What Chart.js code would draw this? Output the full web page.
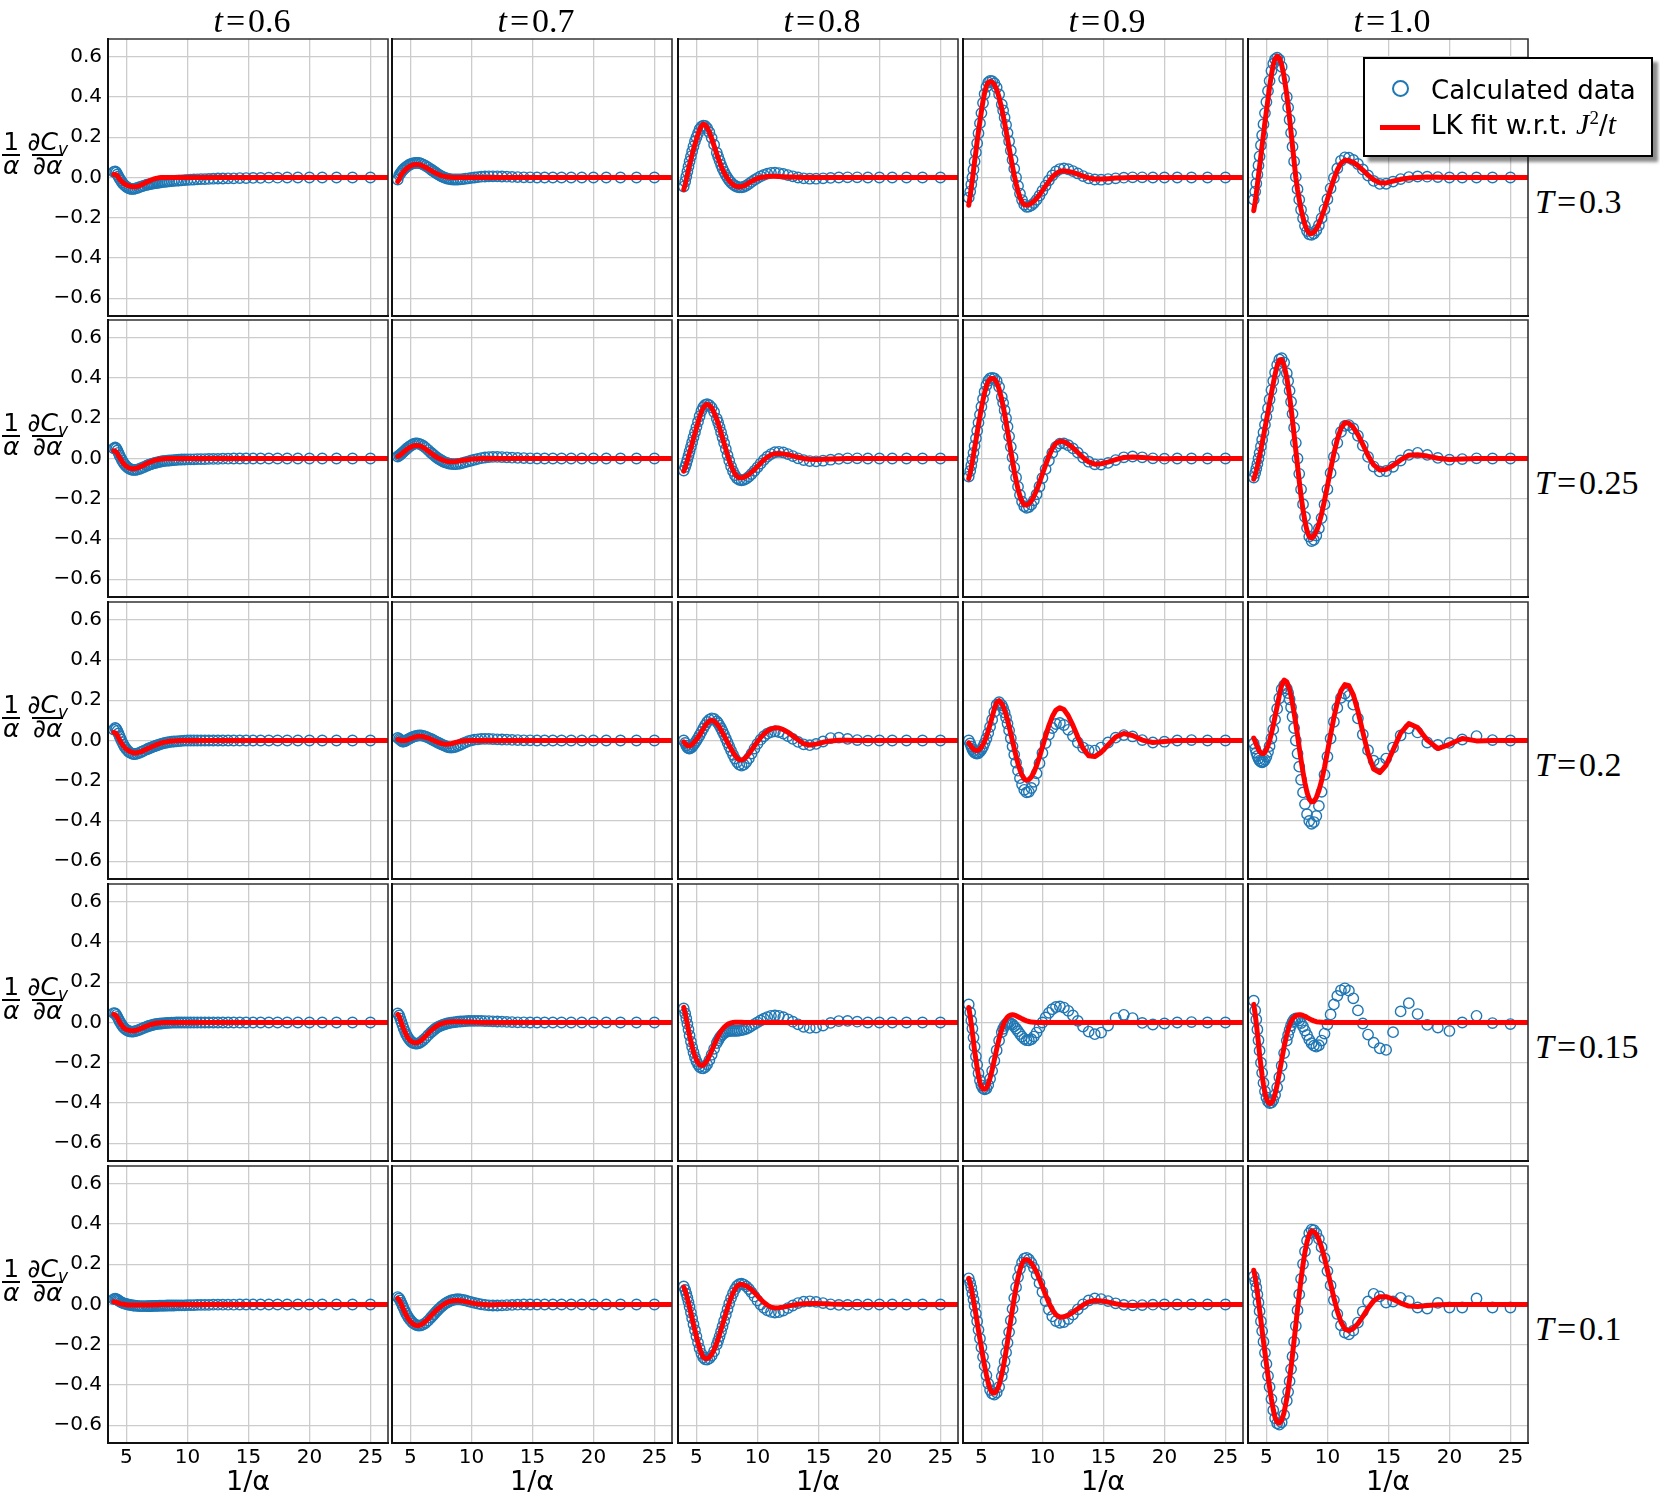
<!DOCTYPE html>
<html>
<head>
<meta charset="utf-8">
<script src="https://cdn.jsdelivr.net/npm/chart.js@4.4.1/dist/chart.umd.min.js"></script>
<style>
html, body { margin: 0; padding: 0; background: #fff; }
#page { position: relative; width: 1660px; height: 1509px; overflow: hidden; background: #fff; }
#page canvas { position: absolute; }
.col-title { position: absolute; width: 280px; text-align: center; font-family: 'Liberation Serif', 'DejaVu Serif', serif; font-size: 34px; line-height: 36px; color: #000; z-index: 5; }
.row-label { position: absolute; font-family: 'Liberation Serif', 'DejaVu Serif', serif; font-size: 34px; line-height: 36px; color: #000; white-space: nowrap; z-index: 5; }
.eq { margin: 0 3px; }
.ylab { position: absolute; left: 2px; display: flex; align-items: flex-start; font-family: 'DejaVu Sans', sans-serif; font-size: 25px; color: #000; z-index: 5; }
.frac { display: inline-flex; flex-direction: column; align-items: center; }
.frac .num { line-height: 25px; height: 25px; padding: 0 1px; white-space: nowrap; }
.frac .den { line-height: 20px; border-top: 2px solid #000; padding: 0 1px; white-space: nowrap; }
.frac + .frac { margin-left: 6px; }
.frac sub { font-size: 17px; vertical-align: -5px; line-height: 0; }
.legend { position: absolute; left: 1363px; top: 57px; width: 290px; height: 100px; box-sizing: border-box; border: 2px solid #000; background: #fff; box-shadow: 5px 5px 3px rgba(0,0,0,0.45); z-index: 10; font-family: 'DejaVu Sans', sans-serif; font-size: 26px; color: #000; }
.legend .mk { position: absolute; left: 27px; top: 21px; width: 13px; height: 13px; border: 2px solid #1f77b4; border-radius: 50%; }
.legend .ln { position: absolute; left: 15px; top: 66px; width: 40px; height: 5px; background: #ff0000; }
.legend .tx { position: absolute; left: 66px; line-height: 30px; white-space: nowrap; }
.legend .mi { font-family: 'Liberation Serif', serif; font-style: italic; font-size: 30px; }
.legend sup { font-family: 'Liberation Serif', serif; font-size: 19px; vertical-align: 10px; line-height: 0; }
</style>
</head>
<body>
<div id="page"></div>
<script>
// column / row parameters
const tLabels = ['0.6', '0.7', '0.8', '0.9', '1.0'];
const TLabels = ['0.3', '0.25', '0.2', '0.15', '0.1'];
const xTickValues = [5, 10, 15, 20, 25];
const yTickValues = [-0.6, -0.4, -0.2, 0.0, 0.2, 0.4, 0.6];

// 1/alpha sample positions of the calculated data
const calcX = [
  3.96,4.08,4.17,4.26,4.35,4.44,4.55,4.65,4.76,4.88,
  5.00,5.13,5.26,5.41,5.56,5.71,5.88,6.06,6.25,6.45,
  6.67,6.78,6.90,7.02,7.14,7.27,7.41,7.55,7.69,7.84,
  8.00,8.16,8.33,8.51,8.70,8.89,9.09,9.30,9.52,9.76,
  10.00,10.26,10.53,10.81,11.11,11.43,11.76,12.12,12.50,12.90,
  13.33,13.79,14.29,14.81,15.38,16.00,16.67,17.39,18.18,19.05,
  20.00,21.05,22.22,23.53,25.00
];
// the LK fit is drawn on the same points, carried on to the right edge
const fitX = calcX.concat([27.0]);

// ---- T = 0.3 ----
const calcT03t06 = [
  .028,.03,.025,.015,.005,-.005,-.015,-.025,-.033,-.04,
  -.046,-.051,-.055,-.057,-.057,-.055,-.052,-.048,-.044,-.04,
  -.036,-.035,-.033,-.032,-.03,-.029,-.028,-.027,-.025,-.024,
  -.022,-.021,-.02,-.019,-.018,-.017,-.016,-.015,-.014,-.013,
  -.012,-.011,-.01,-.009,-.008,-.008,-.007,-.006,-.005,-.005,
  -.004,-.004,-.003,-.003,-.002,-.002,-.001,-.001,0,0,
  0,0,0,0,0
];
const fitT03t06 = [
  .015,.015,.013,.008,0,-.008,-.016,-.022,-.028,-.033,
  -.037,-.04,-.043,-.045,-.046,-.046,-.044,-.041,-.036,-.03,
  -.023,-.02,-.016,-.013,-.01,-.007,-.005,-.003,-.001,0,
  0,0,0,0,0,0,0,0,0,0,
  0,0,0,0,0,0,0,0,0,0,
  0,0,0,0,0,0,0,0,0,0,
  0,0,0,0,0,0
];
const calcT03t07 = [
  -.01,.012,.02,.028,.035,.041,.047,.052,.057,.062,
  .066,.069,.071,.073,.073,.072,.069,.064,.058,.05,
  .041,.036,.031,.026,.021,.016,.011,.006,.002,-.002,
  -.005,-.007,-.009,-.01,-.01,-.01,-.009,-.008,-.006,-.004,
  -.002,0,.002,.004,.005,.006,.006,.006,.005,.004,
  .003,.002,.001,.001,0,0,0,0,0,0,
  0,0,0,0,0
];
const fitT03t07 = [
  -.02,-.01,.005,.015,.022,.029,.036,.042,.048,.053,
  .057,.061,.064,.065,.065,.064,.061,.056,.05,.043,
  .035,.031,.027,.023,.019,.016,.012,.009,.007,.005,
  .003,.002,.001,0,0,0,0,0,0,0,
  0,0,0,0,0,0,0,0,0,0,
  0,0,0,0,0,0,0,0,0,0,
  0,0,0,0,0,0
];
const calcT03t08 = [
  -.045,-.02,.005,.03,.055,.08,.105,.13,.155,.18,
  .2,.22,.24,.252,.258,.256,.245,.225,.197,.163,
  .123,.103,.083,.063,.045,.028,.012,-.002,-.014,-.025,
  -.034,-.041,-.046,-.049,-.049,-.046,-.04,-.032,-.022,-.012,
  -.003,.006,.013,.019,.023,.024,.022,.018,.012,.006,
  0,-.004,-.006,-.006,-.004,-.002,0,.001,.001,0,
  0,0,0,0,0
];
const fitT03t08 = [
  -.06,-.035,-.01,.015,.04,.065,.09,.115,.14,.165,
  .19,.215,.237,.255,.265,.262,.248,.225,.193,.157,
  .117,.097,.077,.058,.04,.024,.009,-.004,-.016,-.026,
  -.035,-.041,-.045,-.046,-.045,-.041,-.035,-.027,-.019,-.011,
  -.005,0,.003,.005,.006,.006,.005,.004,.003,.002,
  .001,0,0,0,0,0,0,0,0,0,
  0,0,0,0,0,0
];
const calcT03t09 = [
  -.1,-.07,-.035,0,.04,.08,.125,.17,.22,.27,
  .32,.37,.415,.45,.472,.48,.478,.468,.447,.413,
  .363,.333,.298,.261,.222,.18,.134,.088,.044,0,
  -.042,-.08,-.112,-.135,-.146,-.145,-.138,-.127,-.111,-.09,
  -.066,-.04,-.014,.01,.03,.042,.045,.041,.032,.02,
  .007,-.004,-.01,-.011,-.008,-.004,-.001,.001,.001,0,
  0,0,0,0,0
];
const fitT03t09 = [
  -.138,-.09,-.05,-.01,.035,.08,.13,.18,.23,.28,
  .33,.38,.42,.455,.472,.477,.474,.462,.437,.397,
  .341,.308,.271,.232,.191,.147,.1,.054,.011,-.03,
  -.068,-.099,-.123,-.136,-.137,-.135,-.128,-.118,-.104,-.086,
  -.065,-.042,-.02,.002,.019,.031,.033,.03,.025,.017,
  .007,-.002,-.007,-.008,-.006,-.003,-.001,0,0,0,
  0,0,0,0,0,0
];
const calcT03t10 = [
  -.11,-.07,-.03,.015,.06,.105,.16,.21,.265,.32,
  .375,.43,.48,.53,.565,.588,.595,.585,.55,.49,
  .4,.348,.287,.222,.153,.08,.003,-.058,-.11,-.16,
  -.203,-.24,-.266,-.282,-.285,-.278,-.262,-.237,-.202,-.158,
  -.108,-.054,-.002,.045,.083,.1,.098,.087,.067,.04,
  .01,-.017,-.032,-.031,-.02,-.008,.002,.005,.004,.002,
  0,0,0,0,0
];
const fitT03t10 = [
  -.165,-.12,-.08,-.035,.01,.055,.11,.16,.215,.275,
  .33,.39,.45,.51,.56,.59,.603,.594,.56,.5,
  .41,.355,.292,.225,.155,.08,0,-.06,-.11,-.158,
  -.2,-.235,-.261,-.277,-.279,-.272,-.256,-.231,-.197,-.155,
  -.108,-.057,-.007,.037,.07,.086,.084,.075,.059,.037,
  .012,-.011,-.026,-.027,-.018,-.009,-.003,0,.002,.001,
  0,0,0,0,0,0
];

// ---- T = 0.25 ----
const calcT025t06 = [
  .05,.055,.05,.04,.028,.015,.002,-.01,-.021,-.031,
  -.039,-.046,-.051,-.055,-.057,-.057,-.055,-.052,-.047,-.042,
  -.036,-.033,-.03,-.028,-.025,-.023,-.021,-.019,-.017,-.015,
  -.013,-.012,-.011,-.01,-.009,-.008,-.007,-.006,-.005,-.005,
  -.004,-.004,-.004,-.003,-.003,-.003,-.002,-.002,-.002,-.001,
  -.001,0,0,0,0,0,0,0,0,0,
  0,0,0,0,0
];
const fitT025t06 = [
  .038,.036,.032,.024,.014,.004,-.006,-.016,-.025,-.033,
  -.039,-.044,-.048,-.05,-.051,-.05,-.047,-.043,-.038,-.032,
  -.025,-.022,-.019,-.016,-.013,-.01,-.008,-.006,-.004,-.003,
  -.002,-.001,0,0,0,0,0,0,0,0,
  0,0,0,0,0,0,0,0,0,0,
  0,0,0,0,0,0,0,0,0,0,
  0,0,0,0,0,0
];
const calcT025t07 = [
  .01,.015,.019,.024,.029,.034,.04,.046,.052,.058,
  .063,.068,.072,.075,.075,.073,.069,.062,.053,.042,
  .03,.024,.018,.012,.006,0,-.005,-.01,-.015,-.019,
  -.022,-.025,-.027,-.028,-.028,-.027,-.025,-.022,-.018,-.014,
  -.01,-.006,-.002,.002,.005,.007,.008,.008,.007,.006,
  .004,.003,.002,.001,0,0,0,0,0,0,
  0,0,0,0,0
];
const fitT025t07 = [
  .01,.014,.018,.022,.027,.032,.037,.042,.047,.052,
  .056,.06,.063,.065,.065,.064,.06,.054,.046,.037,
  .027,.022,.017,.012,.007,.003,-.001,-.005,-.009,-.012,
  -.014,-.016,-.016,-.016,-.015,-.013,-.011,-.009,-.007,-.005,
  -.003,-.002,-.001,0,0,0,0,0,0,0,
  0,0,0,0,0,0,0,0,0,0,
  0,0,0,0,0,0
];
const calcT025t08 = [
  -.06,-.042,-.025,-.006,.014,.035,.058,.081,.106,.131,
  .156,.183,.21,.236,.255,.266,.27,.265,.253,.231,
  .198,.179,.156,.131,.105,.077,.047,.017,-.011,-.039,
  -.063,-.083,-.098,-.106,-.108,-.106,-.1,-.09,-.077,-.061,
  -.044,-.025,-.007,.009,.022,.031,.033,.03,.022,.012,
  .001,-.008,-.013,-.014,-.011,-.006,-.002,.001,.001,0,
  0,0,0,0,0
];
const fitT025t08 = [
  -.063,-.045,-.028,-.01,.01,.03,.052,.075,.1,.125,
  .15,.178,.205,.232,.252,.265,.269,.264,.251,.228,
  .194,.175,.152,.127,.102,.075,.046,.017,-.009,-.035,
  -.058,-.076,-.089,-.096,-.096,-.093,-.087,-.079,-.068,-.055,
  -.04,-.023,-.007,.007,.018,.024,.025,.023,.019,.013,
  .006,0,-.004,-.005,-.004,-.002,-.001,0,0,0,
  0,0,0,0,0,0
];
const calcT025t09 = [
  -.09,-.062,-.035,-.005,.028,.062,.1,.138,.178,.218,
  .257,.296,.332,.364,.386,.398,.401,.398,.385,.356,
  .306,.276,.24,.2,.158,.11,.058,.006,-.045,-.094,
  -.14,-.181,-.214,-.237,-.245,-.241,-.229,-.208,-.178,-.139,
  -.097,-.053,-.01,.028,.058,.074,.075,.066,.05,.029,
  .005,-.016,-.029,-.03,-.022,-.008,.006,.01,.006,.001,
  -.001,0,0,0,0
];
const fitT025t09 = [
  -.1,-.072,-.045,-.015,.018,.052,.09,.128,.168,.21,
  .25,.29,.327,.36,.383,.395,.398,.395,.378,.345,
  .291,.259,.221,.179,.137,.089,.037,-.013,-.062,-.108,
  -.152,-.187,-.214,-.23,-.231,-.225,-.211,-.188,-.158,-.119,
  -.077,-.032,.012,.049,.076,.086,.083,.071,.053,.03,
  .005,-.017,-.028,-.026,-.018,-.006,.005,.008,.005,.001,
  -.001,0,0,0,0,0
];
const calcT025t10 = [
  -.095,-.072,-.05,-.027,0,.028,.06,.093,.13,.168,
  .208,.25,.293,.34,.385,.427,.465,.492,.498,.477,
  .424,.385,.337,.282,.222,.153,.078,0,-.076,-.153,
  -.227,-.29,-.345,-.388,-.41,-.404,-.383,-.347,-.296,-.228,
  -.153,-.072,.008,.078,.132,.162,.166,.149,.113,.064,
  .008,-.04,-.064,-.062,-.041,-.01,.018,.028,.018,.003,
  -.006,-.003,.001,0,0
];
const fitT025t10 = [
  -.103,-.08,-.06,-.038,-.013,.014,.045,.077,.112,.15,
  .19,.232,.275,.325,.372,.418,.46,.49,.492,.462,
  .4,.358,.307,.249,.187,.117,.04,-.037,-.112,-.186,
  -.256,-.314,-.36,-.388,-.395,-.385,-.363,-.326,-.276,-.209,
  -.136,-.055,.025,.095,.149,.178,.175,.155,.119,.07,
  .015,-.032,-.057,-.054,-.035,-.007,.016,.019,.012,.001,
  -.005,-.002,0,0,0,0
];

// ---- T = 0.2 ----
const calcT02t06 = [
  .054,.062,.058,.048,.035,.021,.006,-.008,-.021,-.033,
  -.043,-.052,-.059,-.064,-.067,-.067,-.065,-.061,-.056,-.05,
  -.044,-.041,-.038,-.035,-.032,-.029,-.026,-.023,-.02,-.017,
  -.014,-.012,-.01,-.008,-.006,-.005,-.004,-.003,-.002,-.001,
  0,0,0,0,0,0,0,0,0,0,
  0,0,0,0,0,0,0,0,0,0,
  0,0,0,0,0
];
const fitT02t06 = [
  .04,.038,.033,.024,.013,.002,-.009,-.019,-.028,-.036,
  -.043,-.049,-.054,-.058,-.061,-.062,-.061,-.058,-.054,-.049,
  -.042,-.039,-.036,-.033,-.029,-.026,-.022,-.019,-.016,-.013,
  -.01,-.008,-.006,-.004,-.003,-.002,-.001,0,0,0,
  0,0,0,0,0,0,0,0,0,0,
  0,0,0,0,0,0,0,0,0,0,
  0,0,0,0,0,0
];
const calcT02t07 = [
  .013,.008,.003,-.002,-.005,-.005,-.003,0,.004,.008,
  .012,.016,.019,.022,.024,.025,.025,.023,.019,.014,
  .008,.005,.001,-.003,-.007,-.011,-.015,-.019,-.023,-.027,
  -.031,-.034,-.035,-.034,-.031,-.027,-.021,-.015,-.009,-.003,
  .001,.004,.006,.008,.008,.008,.007,.006,.005,.004,
  .003,.002,.001,.001,0,0,0,0,0,0,
  0,0,0,0,0
];
const fitT02t07 = [
  .005,.003,.001,0,0,0,0,.001,.003,.006,
  .009,.012,.015,.018,.02,.021,.021,.019,.016,.012,
  .006,.003,0,-.003,-.006,-.009,-.012,-.015,-.017,-.019,
  -.019,-.018,-.016,-.013,-.01,-.007,-.004,-.002,-.001,0,
  0,0,0,0,0,0,0,0,0,0,
  0,0,0,0,0,0,0,0,0,0,
  0,0,0,0,0,0
];
const calcT02t08 = [
  0,-.012,-.025,-.034,-.039,-.04,-.037,-.031,-.022,-.012,
  -.001,.012,.026,.043,.06,.076,.092,.104,.11,.107,
  .095,.086,.074,.061,.046,.029,.01,-.01,-.03,-.05,
  -.071,-.09,-.107,-.12,-.125,-.12,-.107,-.088,-.065,-.04,
  -.017,.004,.021,.034,.042,.045,.042,.034,.022,.008,
  -.007,-.019,-.023,-.017,-.005,.012,.014,.008,.002,-.001,
  0,0,0,0,0
];
const fitT02t08 = [
  -.007,-.015,-.021,-.025,-.027,-.027,-.024,-.019,-.012,-.004,
  .005,.016,.028,.043,.058,.073,.087,.097,.1,.096,
  .083,.074,.064,.051,.038,.023,.007,-.009,-.025,-.041,
  -.058,-.074,-.087,-.096,-.097,-.092,-.082,-.066,-.047,-.026,
  -.006,.014,.032,.047,.058,.063,.062,.054,.041,.023,
  .004,-.016,-.022,-.018,-.009,-.002,.001,.001,0,0,
  0,0,0,0,0,0
];
const calcT02t09 = [
  0,-.015,-.03,-.043,-.053,-.06,-.064,-.065,-.062,-.055,
  -.045,-.031,-.013,.01,.037,.068,.103,.142,.178,.19,
  .175,.16,.139,.114,.084,.05,.011,-.029,-.07,-.11,
  -.15,-.187,-.219,-.245,-.258,-.255,-.236,-.205,-.163,-.113,
  -.062,-.013,.03,.062,.082,.087,.077,.053,.022,-.01,
  -.035,-.049,-.05,-.035,-.01,.014,.027,.02,.002,-.01,
  -.006,0,.002,0,0
];
const fitT02t09 = [
  -.012,-.022,-.03,-.037,-.043,-.047,-.05,-.05,-.048,-.042,
  -.033,-.02,-.003,.02,.048,.08,.117,.157,.19,.198,
  .183,.17,.15,.128,.101,.07,.034,-.003,-.04,-.078,
  -.115,-.147,-.173,-.191,-.198,-.194,-.181,-.158,-.125,-.081,
  -.032,.022,.074,.119,.151,.163,.154,.123,.075,.017,
  -.039,-.076,-.08,-.059,-.022,.017,.035,.025,.002,-.01,
  -.005,0,0,0,0,0
];
const calcT02t10 = [
  -.015,-.04,-.06,-.077,-.09,-.1,-.106,-.108,-.105,-.096,
  -.08,-.057,-.028,.01,.055,.105,.158,.21,.255,.275,
  .258,.236,.205,.165,.118,.062,0,-.065,-.13,-.195,
  -.258,-.316,-.366,-.4,-.414,-.405,-.375,-.325,-.255,-.17,
  -.08,.01,.093,.162,.212,.233,.222,.178,.11,.03,
  -.048,-.1,-.115,-.09,-.035,.025,.06,.04,-.01,-.022,
  -.012,.005,.022,.002,0
];
const fitT02t10 = [
  .012,-.005,-.02,-.033,-.045,-.055,-.062,-.065,-.065,-.058,
  -.045,-.025,0,.035,.075,.12,.17,.225,.275,.3,
  .291,.275,.252,.221,.183,.137,.082,.025,-.035,-.097,
  -.158,-.212,-.258,-.291,-.305,-.302,-.283,-.249,-.2,-.133,
  -.057,.028,.114,.189,.248,.278,.272,.227,.146,.042,
  -.064,-.142,-.159,-.123,-.048,.037,.084,.064,.002,-.04,
  -.019,.01,-.002,0,0,0
];

// ---- T = 0.15 ----
const calcT015t06 = [
  .047,.045,.038,.028,.017,.006,-.005,-.015,-.024,-.031,
  -.037,-.041,-.044,-.045,-.045,-.043,-.04,-.036,-.031,-.026,
  -.021,-.018,-.016,-.014,-.012,-.01,-.008,-.007,-.006,-.005,
  -.004,-.003,-.002,-.002,-.001,-.001,0,0,0,0,
  0,0,0,0,0,0,0,0,0,0,
  0,0,0,0,0,0,0,0,0,0,
  0,0,0,0,0
];
const fitT015t06 = [
  .04,.037,.031,.022,.012,.002,-.008,-.017,-.025,-.031,
  -.035,-.038,-.04,-.041,-.041,-.04,-.037,-.033,-.028,-.023,
  -.017,-.015,-.012,-.01,-.008,-.006,-.004,-.003,-.002,-.001,
  0,0,0,0,0,0,0,0,0,0,
  0,0,0,0,0,0,0,0,0,0,
  0,0,0,0,0,0,0,0,0,0,
  0,0,0,0,0,0
];
const calcT015t07 = [
  .045,.035,.02,.004,-.012,-.028,-.044,-.058,-.071,-.082,
  -.091,-.098,-.102,-.105,-.105,-.102,-.096,-.087,-.076,-.063,
  -.05,-.044,-.038,-.032,-.027,-.022,-.018,-.014,-.011,-.008,
  -.005,-.003,-.001,.001,.002,.004,.005,.006,.007,.008,
  .008,.008,.008,.008,.007,.007,.006,.005,.004,.003,
  .002,.001,.001,0,0,0,0,0,0,0,
  0,0,0,0,0
];
const fitT015t07 = [
  .04,.03,.015,-.001,-.017,-.032,-.047,-.061,-.073,-.083,
  -.091,-.097,-.1,-.101,-.1,-.096,-.089,-.079,-.067,-.054,
  -.041,-.035,-.029,-.023,-.018,-.013,-.009,-.006,-.003,-.001,
  .001,.002,.003,.004,.004,.004,.004,.003,.003,.002,
  .002,.001,.001,0,0,0,0,0,0,0,
  0,0,0,0,0,0,0,0,0,0,
  0,0,0,0,0,0
];
const calcT015t08 = [
  .07,.045,.02,-.007,-.035,-.064,-.095,-.122,-.148,-.172,
  -.192,-.208,-.22,-.227,-.228,-.222,-.208,-.187,-.16,-.131,
  -.102,-.089,-.077,-.067,-.059,-.052,-.047,-.044,-.042,-.041,
  -.041,-.041,-.041,-.04,-.038,-.035,-.031,-.025,-.017,-.008,
  .001,.01,.019,.027,.033,.035,.033,.026,.016,.004,
  -.009,-.021,-.027,-.025,-.015,-.002,.007,.008,.004,0,
  0,0,0,0,0
];
const fitT015t08 = [
  .075,.045,.018,-.01,-.038,-.066,-.095,-.12,-.145,-.167,
  -.185,-.2,-.21,-.214,-.212,-.203,-.188,-.166,-.14,-.112,
  -.082,-.068,-.055,-.043,-.033,-.024,-.016,-.01,-.005,-.002,
  0,.001,.001,.001,.001,0,0,0,0,0,
  0,0,0,0,0,0,0,0,0,0,
  0,0,0,0,0,0,0,0,0,0,
  0,0,0,0,0,0
];
const calcT015t09 = [
  .09,.05,.01,-.03,-.075,-.12,-.168,-.21,-.252,-.288,
  -.312,-.327,-.332,-.328,-.31,-.28,-.24,-.19,-.138,-.09,
  -.048,-.031,-.017,-.007,-.002,-.001,-.004,-.01,-.019,-.03,
  -.043,-.057,-.07,-.081,-.088,-.089,-.083,-.07,-.05,-.025,
  0,.025,.048,.066,.077,.08,.074,.058,.035,.008,
  -.02,-.045,-.058,-.05,-.015,.022,.038,.022,-.002,-.01,
  -.005,0,.002,0,0
];
const fitT015t09 = [
  .075,.03,-.01,-.05,-.095,-.14,-.185,-.225,-.265,-.298,
  -.318,-.33,-.332,-.325,-.305,-.275,-.235,-.185,-.132,-.08,
  -.033,-.013,.004,.017,.027,.033,.037,.038,.037,.034,
  .029,.024,.018,.013,.008,.005,.002,.001,0,0,
  0,0,0,0,0,0,0,0,0,0,
  0,0,0,0,0,0,0,0,0,0,
  0,0,0,0,0,0
];
const calcT015t10 = [
  .108,.06,.015,-.035,-.088,-.14,-.2,-.25,-.3,-.342,
  -.372,-.392,-.4,-.398,-.385,-.36,-.322,-.272,-.215,-.152,
  -.09,-.062,-.037,-.015,.003,.015,.02,.018,.01,-.003,
  -.02,-.04,-.062,-.085,-.103,-.115,-.12,-.113,-.09,-.055,
  -.01,.04,.09,.132,.16,.17,.158,.12,.06,-.005,
  -.06,-.1,-.128,-.136,-.048,.055,.096,.042,-.012,-.025,
  -.042,0,.033,-.003,-.008
];
const fitT015t10 = [
  .09,.04,-.005,-.055,-.105,-.16,-.215,-.265,-.31,-.35,
  -.378,-.396,-.403,-.4,-.385,-.355,-.31,-.25,-.185,-.12,
  -.06,-.035,-.013,.005,.018,.027,.033,.037,.038,.038,
  .035,.031,.025,.019,.013,.008,.004,.002,.001,0,
  0,0,0,0,0,0,0,0,0,0,
  0,0,0,0,0,0,0,0,0,0,
  0,0,0,0,0,0
];

// ---- T = 0.1 ----
const calcT01t06 = [
  .027,.029,.027,.024,.02,.016,.012,.009,.006,.004,
  .002,0,-.002,-.003,-.005,-.006,-.007,-.008,-.008,-.008,
  -.008,-.008,-.008,-.008,-.007,-.007,-.007,-.007,-.006,-.006,
  -.006,-.006,-.005,-.005,-.005,-.005,-.004,-.004,-.004,-.004,
  -.003,-.003,-.003,-.002,-.002,-.002,-.002,-.001,-.001,-.001,
  -.001,-.001,0,0,0,0,0,0,0,0,
  0,0,0,0,0
];
const fitT01t06 = [
  .014,.013,.011,.009,.007,.005,.003,.002,.001,0,
  -.001,-.002,-.002,-.003,-.003,-.003,-.003,-.003,-.003,-.003,
  -.002,-.002,-.002,-.002,-.002,-.001,-.001,-.001,-.001,0,
  0,0,0,0,0,0,0,0,0,0,
  0,0,0,0,0,0,0,0,0,0,
  0,0,0,0,0,0,0,0,0,0,
  0,0,0,0,0,0
];
const calcT01t07 = [
  .037,.03,.02,.008,-.005,-.018,-.032,-.045,-.057,-.068,
  -.078,-.087,-.094,-.1,-.104,-.105,-.104,-.099,-.091,-.08,
  -.066,-.058,-.05,-.042,-.034,-.026,-.018,-.01,-.003,.004,
  .01,.015,.02,.023,.025,.026,.025,.023,.02,.016,
  .012,.008,.004,.001,-.002,-.004,-.005,-.005,-.004,-.003,
  -.002,-.001,0,0,0,0,0,0,0,0,
  0,0,0,0,0
];
const fitT01t07 = [
  .03,.022,.012,0,-.013,-.026,-.04,-.053,-.065,-.076,
  -.085,-.093,-.099,-.103,-.105,-.104,-.1,-.093,-.083,-.071,
  -.057,-.05,-.042,-.035,-.028,-.021,-.014,-.007,-.001,.005,
  .01,.014,.017,.019,.02,.02,.019,.017,.014,.011,
  .008,.005,.003,.001,0,-.001,-.001,0,0,0,
  0,0,0,0,0,0,0,0,0,0,
  0,0,0,0,0,0
];
const calcT01t08 = [
  .09,.072,.054,.034,.012,-.012,-.04,-.068,-.098,-.128,
  -.158,-.189,-.218,-.244,-.263,-.272,-.274,-.268,-.254,-.232,
  -.199,-.18,-.158,-.134,-.109,-.082,-.052,-.023,.005,.032,
  .056,.076,.092,.101,.103,.099,.09,.077,.06,.04,
  .02,0,-.016,-.029,-.037,-.04,-.038,-.03,-.018,-.005,
  .007,.014,.016,.013,.007,.001,-.002,-.002,-.001,0,
  0,0,0,0,0
];
const fitT01t08 = [
  .086,.068,.05,.03,.008,-.015,-.043,-.07,-.1,-.13,
  -.16,-.19,-.218,-.243,-.261,-.268,-.268,-.262,-.247,-.224,
  -.19,-.171,-.148,-.124,-.1,-.073,-.045,-.017,.009,.034,
  .057,.076,.091,.099,.1,.097,.092,.084,.073,.059,
  .043,.026,.01,-.003,-.013,-.017,-.016,-.013,-.008,-.003,
  .001,.004,.005,.005,.004,.002,.001,0,0,0,
  0,0,0,0,0,0
];
const calcT01t09 = [
  .13,.107,.083,.054,.025,-.007,-.045,-.083,-.126,-.169,
  -.213,-.26,-.305,-.352,-.393,-.425,-.443,-.448,-.438,-.41,
  -.357,-.323,-.283,-.238,-.19,-.137,-.079,-.022,.032,.086,
  .136,.177,.209,.228,.232,.224,.207,.182,.148,.106,
  .062,.017,-.025,-.059,-.082,-.091,-.087,-.072,-.05,-.024,
  .001,.02,.03,.027,.017,.006,-.002,-.004,-.003,-.001,
  0,0,0,0,0
];
const fitT01t09 = [
  .13,.105,.08,.05,.02,-.012,-.05,-.088,-.13,-.172,
  -.215,-.262,-.305,-.35,-.39,-.42,-.437,-.44,-.429,-.4,
  -.347,-.314,-.274,-.23,-.184,-.132,-.076,-.02,.033,.085,
  .134,.173,.204,.221,.223,.218,.205,.186,.16,.125,
  .088,.048,.008,-.026,-.051,-.063,-.061,-.053,-.039,-.021,
  -.002,.013,.02,.018,.012,.004,-.003,-.005,-.003,-.001,
  0,0,0,0,0,0
];
const calcT01t10 = [
  .14,.115,.085,.05,.01,-.033,-.083,-.132,-.185,-.24,
  -.295,-.355,-.41,-.47,-.525,-.565,-.59,-.597,-.585,-.548,
  -.478,-.434,-.381,-.321,-.258,-.185,-.107,-.028,.05,.127,
  .201,.264,.317,.354,.372,.369,.354,.326,.285,.23,
  .166,.095,.022,-.047,-.104,-.14,-.148,-.13,-.09,-.035,
  .015,.053,.04,.01,.015,.033,.017,-.015,-.02,.008,
  -.015,-.015,.03,-.015,-.015
];
const fitT01t10 = [
  .17,.135,.1,.06,.018,-.027,-.08,-.13,-.185,-.24,
  -.295,-.355,-.41,-.47,-.522,-.562,-.585,-.589,-.575,-.536,
  -.466,-.423,-.37,-.311,-.249,-.178,-.101,-.024,.051,.126,
  .199,.261,.312,.348,.365,.362,.348,.322,.283,.231,
  .171,.103,.033,-.032,-.087,-.122,-.13,-.119,-.095,-.06,
  -.019,.018,.039,.039,.026,.007,-.008,-.01,-.005,-.001,
  0,0,0,0,0,0
];

// tables: rows = T, columns = t
const calcTable = [
  [calcT03t06, calcT03t07, calcT03t08, calcT03t09, calcT03t10],
  [calcT025t06, calcT025t07, calcT025t08, calcT025t09, calcT025t10],
  [calcT02t06, calcT02t07, calcT02t08, calcT02t09, calcT02t10],
  [calcT015t06, calcT015t07, calcT015t08, calcT015t09, calcT015t10],
  [calcT01t06, calcT01t07, calcT01t08, calcT01t09, calcT01t10]
];
const fitTable = [
  [fitT03t06, fitT03t07, fitT03t08, fitT03t09, fitT03t10],
  [fitT025t06, fitT025t07, fitT025t08, fitT025t09, fitT025t10],
  [fitT02t06, fitT02t07, fitT02t08, fitT02t09, fitT02t10],
  [fitT015t06, fitT015t07, fitT015t08, fitT015t09, fitT015t10],
  [fitT01t06, fitT01t07, fitT01t08, fitT01t09, fitT01t10]
];

// layout of the grid of axes (pixels)
const panelLeft = [108, 392, 678, 963, 1248];
const panelTop = [39, 320, 602, 884, 1166];
const PW = 280, PH = 277;
const PAGE_H = 1509;

const page = document.getElementById('page');
const tickFont = { family: "'DejaVu Sans', sans-serif", size: 20 };

// spines: left/bottom heavy, top/right lighter
const spines = {
  id: 'spines',
  afterDraw(chart) {
    const a = chart.chartArea, ctx = chart.ctx;
    ctx.save();
    ctx.lineCap = 'square';
    ctx.strokeStyle = '#333';
    ctx.lineWidth = 1.6;
    ctx.beginPath();
    ctx.moveTo(a.left, a.top); ctx.lineTo(a.right, a.top); ctx.lineTo(a.right, a.bottom);
    ctx.stroke();
    ctx.strokeStyle = '#111';
    ctx.lineWidth = 2;
    ctx.beginPath();
    ctx.moveTo(a.left, a.top); ctx.lineTo(a.left, a.bottom); ctx.lineTo(a.right, a.bottom);
    ctx.stroke();
    ctx.restore();
  }
};

function makePanel(r, c) {
  const left = panelLeft[c], top = panelTop[r];
  const padL = c === 0 ? left : 2;
  const padB = r === 4 ? PAGE_H - (top + PH) : 2;
  const cw = padL + PW + 2, ch = 2 + PH + padB;
  const cv = document.createElement('canvas');
  cv.width = cw; cv.height = ch;
  cv.style.left = (left - padL) + 'px';
  cv.style.top = (top - 2) + 'px';
  cv.style.width = cw + 'px';
  cv.style.height = ch + 'px';
  page.appendChild(cv);

  const calc = calcTable[r][c], fit = fitTable[r][c];

  new Chart(cv, {
    type: 'scatter',
    data: {
      datasets: [
        {
          type: 'line',
          label: 'LK fit w.r.t. J²/t',
          data: fitX.map((x, i) => ({ x: x, y: fit[i] })),
          borderColor: '#ff0000',
          borderWidth: 5,
          borderJoinStyle: 'round',
          borderCapStyle: 'round',
          pointRadius: 0,
          tension: 0,
          fill: false,
          order: 0,
          clip: 0
        },
        {
          type: 'scatter',
          label: 'Calculated data',
          data: calcX.map((x, i) => ({ x: x, y: calc[i] })),
          showLine: false,
          pointStyle: 'circle',
          pointRadius: 5.2,
          pointBorderWidth: 1.4,
          pointBorderColor: '#1f77b4',
          pointBackgroundColor: 'rgba(0,0,0,0)',
          borderColor: '#1f77b4',
          backgroundColor: 'rgba(0,0,0,0)',
          order: 1,
          clip: 0
        }
      ]
    },
    options: {
      responsive: false,
      animation: false,
      devicePixelRatio: 1,
      events: [],
      layout: { autoPadding: false, padding: { top: 2, right: 2, left: 0, bottom: 0 } },
      plugins: { legend: { display: false }, tooltip: { enabled: false }, title: { display: false } },
      scales: {
        x: {
          type: 'linear',
          position: 'bottom',
          min: 3.49,
          max: 26.44,
          afterBuildTicks: s => { s.ticks = xTickValues.map(v => ({ value: v })); },
          afterFit: s => { s.height = padB; s.paddingLeft = 0; s.paddingRight = 0; },
          grid: { color: '#cccccc', lineWidth: 1.3, drawTicks: false },
          border: { display: false },
          ticks: {
            display: r === 4,
            autoSkip: false,
            maxRotation: 0,
            padding: 3,
            color: '#000',
            font: tickFont
          },
          title: {
            display: r === 4,
            text: '1/α',
            color: '#000',
            font: { family: "'DejaVu Sans', sans-serif", size: 27 },
            padding: { top: 0, bottom: 10 }
          }
        },
        y: {
          type: 'linear',
          position: 'left',
          min: -0.688,
          max: 0.688,
          afterBuildTicks: s => { s.ticks = yTickValues.map(v => ({ value: v })); },
          afterFit: s => { s.width = padL; s.paddingTop = 0; s.paddingBottom = 0; },
          grid: { color: '#cccccc', lineWidth: 1.3, drawTicks: false },
          border: { display: false },
          ticks: {
            display: c === 0,
            autoSkip: false,
            padding: 6,
            color: '#000',
            font: tickFont,
            callback: v => (v < 0 ? '\u2212' : '') + Math.abs(v).toFixed(1)
          }
        }
      }
    },
    plugins: [spines]
  });
}

for (let r = 0; r < 5; r++) {
  for (let c = 0; c < 5; c++) makePanel(r, c);
}

// column titles t=...
tLabels.forEach((t, c) => {
  const d = document.createElement('div');
  d.className = 'col-title';
  d.style.left = (panelLeft[c] + 4) + 'px';
  d.style.top = '3px';
  d.innerHTML = '<i>t</i><span class="eq">=</span>' + t;
  page.appendChild(d);
});

// row labels T=...
TLabels.forEach((T, r) => {
  const d = document.createElement('div');
  d.className = 'row-label';
  d.style.left = '1535px';
  d.style.top = (panelTop[r] + 145) + 'px';
  d.innerHTML = '<i>T</i><span class="eq">=</span>' + T;
  page.appendChild(d);
});

// y labels (1/α ∂Cv/∂α), one per row
panelTop.forEach(top => {
  const d = document.createElement('div');
  d.className = 'ylab';
  d.style.top = (top + 90) + 'px';
  d.innerHTML =
    '<span class="frac"><span class="num">1</span><span class="den"><i>α</i></span></span>' +
    '<span class="frac"><span class="num"><i>∂C</i><sub><i>v</i></sub></span><span class="den"><i>∂α</i></span></span>';
  page.appendChild(d);
});

// legend
const lg = document.createElement('div');
lg.className = 'legend';
lg.innerHTML =
  '<div class="mk"></div><div class="tx" style="top:16px">Calculated data</div>' +
  '<div class="ln"></div><div class="tx" style="top:50px">LK fit w.r.t. <span class="mi">J</span><sup>2</sup>/<span class="mi">t</span></div>';
page.appendChild(lg);
</script>
</body>
</html>
